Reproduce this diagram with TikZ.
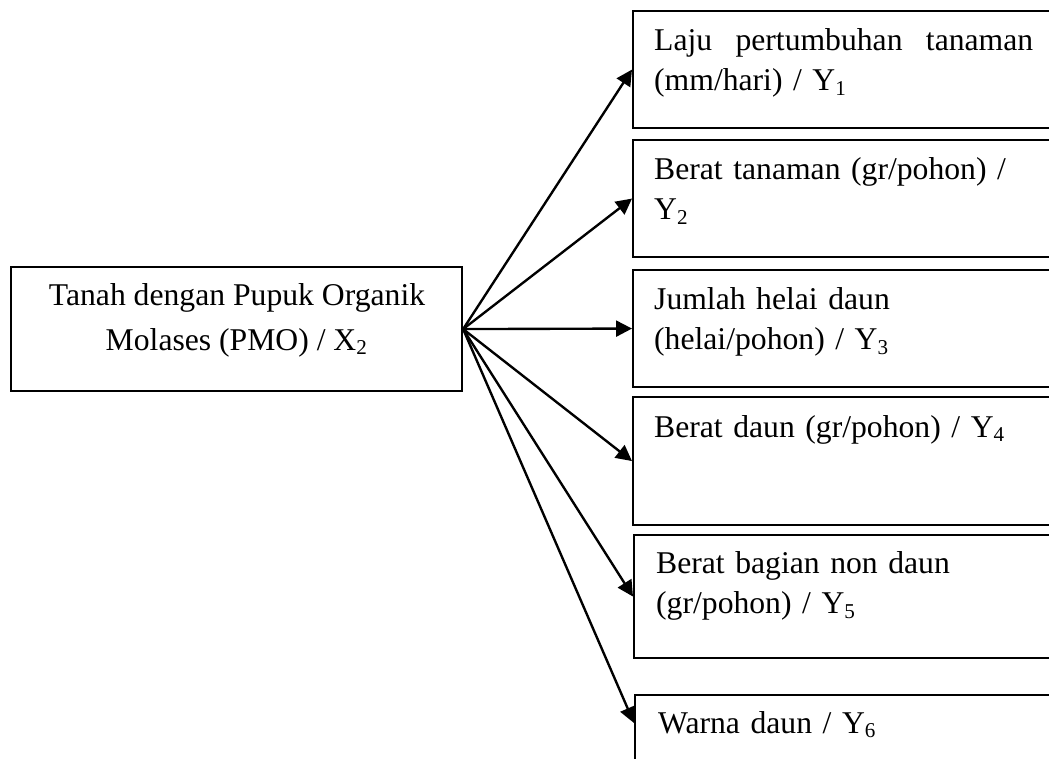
\documentclass[tikz,border=0pt]{standalone}
\usepackage{fontspec}
\setmainfont{Liberation Serif}
\usetikzlibrary{arrows.meta}
\newcommand\pxu{0.379pt}

\begin{document}
\begin{tikzpicture}[x=\pxu,y=-\pxu,>={Triangle[length=6pt,width=6pt]},line width=.9pt,
  box/.style={draw,line width=.8pt,inner sep=0pt,anchor=north west},
  outbox/.style={box,minimum width=430*\pxu},
  lbl/.style={anchor=base west,inner sep=0pt,align=left,text width=379*\pxu,font=\fontsize{12}{15.4}\selectfont}]
\useasboundingbox (0,0) rectangle (1049,758);
\clip (0,0) rectangle (1049,758);
% input box
\node[box,minimum width=451*\pxu,minimum height=124*\pxu] (X2) at (10,266) {};
\node[anchor=base,align=center,inner sep=0pt,font=\fontsize{12}{17}\selectfont] (X2t) at (237,350) {Tanah dengan Pupuk Organik\\Molases (PMO) / X\textsubscript{2}};
% output boxes
\node[outbox,minimum height=117*\pxu] (Y1) at (632,10) {};
\node[outbox,minimum height=117*\pxu] (Y2) at (632,139) {};
\node[outbox,minimum height=117*\pxu] (Y3) at (632,269) {};
\node[outbox,minimum height=128*\pxu] (Y4) at (632,396) {};
\node[outbox,minimum height=123*\pxu] (Y5) at (633,534) {};
\node[outbox,minimum height=120*\pxu] (Y6) at (634,694) {};
\node[lbl] (Y1t) at ([shift={(21,40)}]Y1.north west) {Laju\hfill pertumbuhan\hfill tanaman\\(mm/hari) / Y\textsubscript{1}};
\node[lbl] (Y2t) at ([shift={(21,40)}]Y2.north west) {Berat tanaman (gr/pohon) /\\Y\textsubscript{2}};
\node[lbl] (Y3t) at ([shift={(21,40)}]Y3.north west) {Jumlah helai daun\\(helai/pohon) / Y\textsubscript{3}};
\node[lbl] (Y4t) at ([shift={(21,41)}]Y4.north west) {Berat daun (gr/pohon) / Y\textsubscript{4}};
\node[lbl] (Y5t) at ([shift={(22,39)}]Y5.north west) {Berat bagian non daun\\(gr/pohon) / Y\textsubscript{5}};
\node[lbl] (Y6t) at ([shift={(23,39)}]Y6.north west) {Warna daun / Y\textsubscript{6}};
% arrows
\draw[->] (X2.east) -- (Y1.west);
\draw[->] (X2.east) -- (Y2.west);
\draw[->] (X2.east) -- (Y3.west);
\draw[->] (X2.east) -- (Y4.west);
\draw[->] (X2.east) -- (Y5.west);
\draw[->] (X2.east) -- ([shift={(0,29)}]Y6.north west);
\end{tikzpicture}
\end{document}
